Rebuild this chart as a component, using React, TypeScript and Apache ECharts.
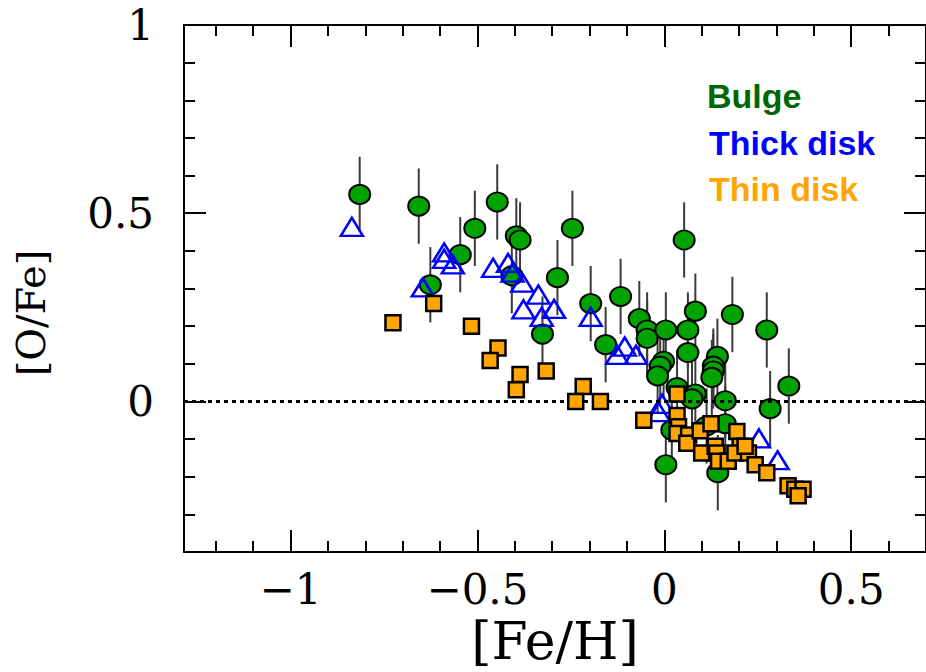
import React, { useEffect, useRef } from 'react';
import * as echarts from 'echarts';

// ---- data ----
const bulgeFeH = [-0.815, -0.657, -0.507, -0.447, -0.396, -0.386, -0.546, -0.626, -0.408, -0.246, -0.286, -0.197, -0.326, -0.157,
  0.053, -0.117, -0.067, -0.046, -0.046, 0.004, 0.063, 0.083, 0.182, 0.274, 0.333, 0.283, 0.063, -0.002, -0.011, -0.018,
  0.142, 0.131, 0.131, 0.127, 0.034, 0.083, 0.074, 0.163, 0.163, 0.020, 0.004, 0.143, 0.113];
const bulgeOFe = [0.550, 0.519, 0.460, 0.530, 0.440, 0.429, 0.390, 0.310, 0.334, 0.460, 0.329, 0.260, 0.179, 0.151,
  0.429, 0.279, 0.220, 0.190, 0.168, 0.190, 0.190, 0.240, 0.231, 0.190, 0.041, -0.019, 0.130, 0.107, 0.094, 0.068,
  0.120, 0.094, 0.081, 0.064, 0.037, 0.020, 0.007, 0.002, -0.059, -0.076, -0.168, -0.189, -0.065];
const bulgeErr = [0.10, 0.10, 0.10, 0.10, 0.10, 0.10, 0.10, 0.10, 0.10, 0.10, 0.10, 0.10, 0.10, 0.10,
  0.10, 0.10, 0.10, 0.10, 0.10, 0.10, 0.10, 0.10, 0.10, 0.10, 0.10, 0.10, 0.10, 0.10, 0.10, 0.10,
  0.10, 0.10, 0.10, 0.10, 0.10, 0.10, 0.10, 0.10, 0.10, 0.10, 0.10, 0.10, 0.10];

const thickFeH = [-0.836, -0.646, -0.589, -0.589, -0.566, -0.458, -0.418, -0.406, -0.380, -0.337, -0.377, -0.328, -0.295,
  -0.197, -0.126, -0.106, -0.076, -0.006, -0.015, 0.253, 0.303];
const thickOFe = [0.464, 0.303, 0.396, 0.379, 0.364, 0.355, 0.368, 0.342, 0.316, 0.284, 0.245, 0.225, 0.246,
  0.225, 0.124, 0.146, 0.124, -0.006, -0.028, -0.098, -0.156];

const thinFeH = [-0.726, -0.617, -0.516, -0.445, -0.466, -0.386, -0.396, -0.316, -0.217, -0.237, -0.171, -0.055,
  0.034, 0.034, 0.038, 0.034, 0.065, 0.060, 0.096, 0.125, 0.100, 0.136, 0.140, 0.145, 0.171, 0.194, 0.203, 0.189,
  0.225, 0.243, 0.274, 0.331, 0.349, 0.371, 0.358, 0.216];
const thinOFe = [0.209, 0.260, 0.200, 0.142, 0.109, 0.072, 0.031, 0.081, 0.040, 0.000, 0.000, -0.050,
  0.020, -0.037, -0.067, -0.085, -0.089, -0.111, -0.078, -0.059, -0.137, -0.119, -0.137, -0.159, -0.159, -0.080, -0.119, -0.137,
  -0.137, -0.168, -0.189, -0.224, -0.233, -0.233, -0.250, -0.119];

const xMajorTicks = [-1, -0.5, 0, 0.5];
const xMinorTicks = [-1.2, -1.1, -0.9, -0.8, -0.7, -0.6, -0.4, -0.3, -0.2, -0.1, 0.1, 0.2, 0.3, 0.4, 0.6];
const yMajorTicks = [0, 0.5, 1];
const yMinorTicks = [-0.3, -0.2, -0.1, 0.1, 0.2, 0.3, 0.4, 0.6, 0.7, 0.8, 0.9];
const legendNames = ['Bulge', 'Thick disk', 'Thin disk'];
const xTitle = '[Fe/H]';
const yTitle = '[O/Fe]';

const X_MIN = -1.285;
const X_MAX = 0.7;
const Y_MIN = -0.4;
const Y_MAX = 1;

const SERIF = '"DejaVu Serif", serif';
const fmt = (v: number) => (v < 0 ? '\u2212' + String(-v) : String(v));

export default function App() {
  const ref = useRef<HTMLDivElement>(null);
  useEffect(() => {
    document.body.style.margin = '0';
    if (!ref.current) return;
    const chart = echarts.init(ref.current, undefined, { renderer: 'svg' });

    const xBase = (position: string, major: boolean, withLabel: boolean, showLine: boolean) => ({
      type: 'value', gridIndex: 0, position, min: X_MIN, max: X_MAX,
      axisLine: { show: showLine, onZero: false, lineStyle: { color: '#000', width: 2 } },
      axisTick: { show: true, inside: true, length: major ? 22 : 11, customValues: major ? xMajorTicks : xMinorTicks,
        lineStyle: { color: '#000', width: 2 } },
      axisLabel: withLabel ? { show: true, customValues: xMajorTicks, formatter: fmt, margin: 16,
        fontFamily: SERIF, fontSize: 42, color: '#000' } : { show: false },
      splitLine: { show: false },
    });
    const yBase = (position: string, major: boolean, withLabel: boolean, showLine: boolean) => ({
      type: 'value', gridIndex: 0, position, min: Y_MIN, max: Y_MAX,
      axisLine: { show: showLine, onZero: false, lineStyle: { color: '#000', width: 2 } },
      axisTick: { show: true, inside: true, length: major ? 22 : 11, customValues: major ? yMajorTicks : yMinorTicks,
        lineStyle: { color: '#000', width: 2 } },
      axisLabel: withLabel ? { show: true, customValues: yMajorTicks, formatter: fmt, margin: 30,
        fontFamily: SERIF, fontSize: 42, color: '#000' } : { show: false },
      splitLine: { show: false },
    });

    const xAxes: any[] = [
      { ...xBase('bottom', true, true, true), name: xTitle, nameLocation: 'middle', nameGap: 58,
        nameTextStyle: { fontFamily: SERIF, fontSize: 52, color: '#000' } },
      xBase('bottom', false, false, false),
      xBase('top', true, false, true),
      xBase('top', false, false, false),
    ];
    const yAxes: any[] = [
      yBase('left', true, true, true),
      yBase('left', false, false, false),
      yBase('right', true, false, true),
      yBase('right', false, false, false),
    ];

    const errData = bulgeFeH.map((x, i) => [x, bulgeOFe[i] - bulgeErr[i], bulgeOFe[i] + bulgeErr[i]]);

    chart.setOption({
      animation: false,
      grid: { left: 184, top: 25, width: 744, height: 536, containLabel: false },
      xAxis: xAxes,
      yAxis: yAxes,
      series: [
        {
          type: 'line', data: [], xAxisIndex: 0, yAxisIndex: 0, z: 1,
          markLine: {
            silent: true, symbol: ['none', 'none'], label: { show: false },
            lineStyle: { color: '#000', width: 3, type: [4, 4] },
            data: [{ yAxis: 0 }],
          },
        },
        {
          type: 'custom', xAxisIndex: 0, yAxisIndex: 0, z: 2,
          encode: { x: 0, y: [1, 2] },
          data: errData,
          renderItem: (params: any, api: any) => {
            const p1 = api.coord([api.value(0), api.value(1)]);
            const p2 = api.coord([api.value(0), api.value(2)]);
            return {
              type: 'line',
              shape: { x1: p1[0], y1: p1[1], x2: p2[0], y2: p2[1] },
              style: { stroke: '#3a3a3a', lineWidth: 2 },
            };
          },
        },
        {
          name: legendNames[0], type: 'scatter', z: 3,
          data: bulgeFeH.map((x, i) => [x, bulgeOFe[i]]),
          symbol: 'circle', symbolSize: [21, 19],
          itemStyle: { color: '#00a300', borderColor: '#000', borderWidth: 2, opacity: 1 },
        },
        {
          name: legendNames[1], type: 'scatter', z: 4,
          data: thickFeH.map((x, i) => [x, thickOFe[i]]),
          symbol: 'triangle', symbolSize: [22, 18],
          itemStyle: { color: 'rgba(255,255,255,0)', borderColor: '#0000ff', borderWidth: 2.5, opacity: 1 },
        },
        {
          name: legendNames[2], type: 'scatter', z: 5,
          data: thinFeH.map((x, i) => [x, thinOFe[i]]),
          symbol: 'rect', symbolSize: 15,
          itemStyle: { color: '#ffa500', borderColor: '#000', borderWidth: 2.5, opacity: 1 },
        },
      ],
      graphic: [
        { type: 'text', x: 31, y: 313, rotation: Math.PI / 2, z: 10,
          style: { text: yTitle, fill: '#000', align: 'center', verticalAlign: 'middle',
            font: '40px "DejaVu Serif", serif' } },
        { type: 'text', left: 707, top: 79, z: 10,
          style: { text: legendNames[0], fill: '#006600', font: 'bold 34px "Liberation Sans", Arial, sans-serif' } },
        { type: 'text', left: 709, top: 126, z: 10,
          style: { text: legendNames[1], fill: '#0000ff', font: 'bold 34px "Liberation Sans", Arial, sans-serif' } },
        { type: 'text', left: 709, top: 172, z: 10,
          style: { text: legendNames[2], fill: '#ffa500', font: 'bold 34px "Liberation Sans", Arial, sans-serif' } },
      ],
    });
    return () => chart.dispose();
  }, []);
  return <div ref={ref} style={{ width: 926, height: 672 }} />;
}
